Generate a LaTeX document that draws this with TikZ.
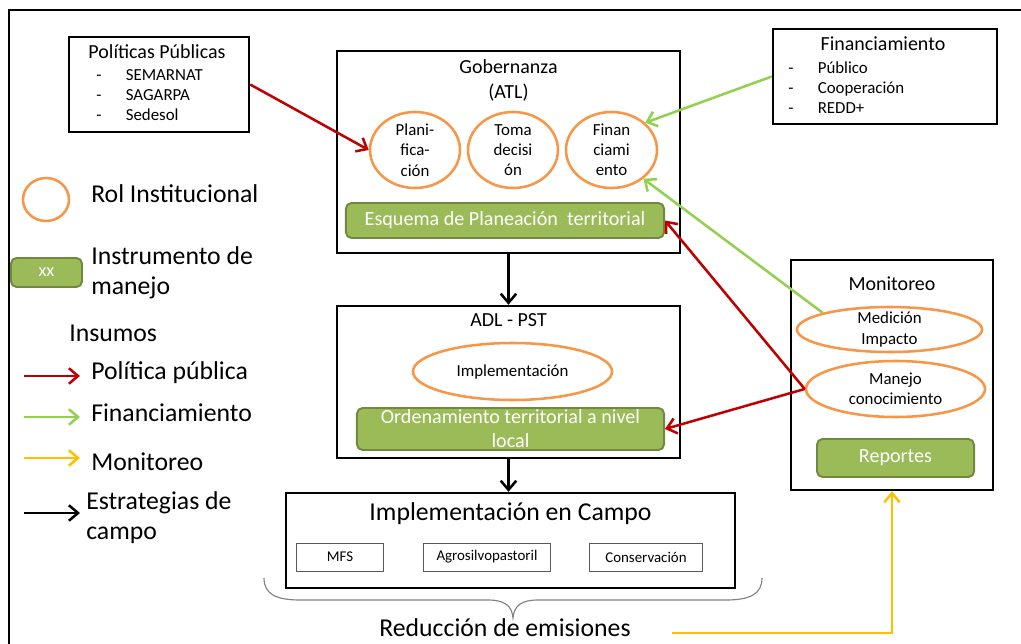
\documentclass[tikz,border=0pt]{standalone}
\usepackage{fontspec}
\setmainfont{Carlito}
\usetikzlibrary{arrows.meta,shapes.geometric}
\definecolor{rolnaranja}{RGB}{247,150,70}
\definecolor{instverde}{RGB}{155,187,89}
\definecolor{instborde}{RGB}{113,137,63}
\definecolor{polrojo}{RGB}{192,0,0}
\definecolor{finverde}{RGB}{146,208,80}
\definecolor{monamarillo}{RGB}{255,192,0}
\newcommand{\guion}{\makebox[21pt][l]{-}}
\newcommand{\fgrand}{\fontsize{18.3}{21.3}\selectfont}
\newcommand{\ftitre}{\fontsize{14.2}{17.8}\selectfont}
\newcommand{\fpetit}{\fontsize{12}{14.4}\selectfont}

\tikzset{
  cadre/.style={draw, line width=1.7pt, inner sep=0pt},
  rol/.style={ellipse, draw=rolnaranja, line width=1.8pt, fill=white, inner sep=0pt},
  roltxt/.style={align=center, font=\fpetit, inner sep=0pt},
  instr/.style={rectangle, rounded corners=4pt, draw=instborde, fill=instverde, line width=1.4pt,
    text=white, inner sep=0pt, align=center, font=\fontsize{14.3}{17}\selectfont},
  flecha/.style={-{Straight Barb[length=6.5pt,width=11pt]}, line width=1.8pt},
}

\begin{document}
\begin{tikzpicture}[x=0.025cm, y=-0.025cm]
	\useasboundingbox (0,0) rectangle (1021,644);
	% cadre
	\draw[line width=1.1pt] (9,644) -- (9,10) -- (1021,10);

	% politicas publicas
	\node[cadre, minimum width=4.5cm, minimum height=2.375cm] (pol) at (159,84.5) {};
	\node[font=\ftitre] (poltit) at (157,52) {Políticas Públicas};
	\node[anchor=west, align=left, font=\fpetit, inner sep=0pt] (pollist) at (96,95)
		{\guion SEMARNAT\\ \guion SAGARPA\\ \guion Sedesol};

	% gobernanza
	\node[cadre, minimum width=8.575cm, minimum height=5.05cm] (gob) at (508.5,152) {};
	\node[font=\ftitre, align=center] (gobtit) at (508.5,80.5) {Gobernanza\\(ATL)};
	\node[rol, minimum width=2.25cm, minimum height=1.9cm,
		label={[roltxt]center:Plani-\\fica-\\ción}] (plan) at (415,150) {};
	\node[rol, minimum width=2.25cm, minimum height=1.9cm,
		label={[roltxt]center:Toma\\decisi\\ón}] (toma) at (513,150) {};
	\node[rol, minimum width=2.275cm, minimum height=1.9cm,
		label={[roltxt]center:Finan\\ciami\\ento}] (finan) at (611.5,150) {};
	\node[instr, minimum width=7.95cm, minimum height=0.875cm] (esq) at (505,220.5)
		{Esquema de Planeación\ \ territorial};

	% adl - pst
	\node[cadre, minimum width=8.575cm, minimum height=3.8cm] (adl) at (508.5,382) {};
	\node[font=\ftitre] (adltit) at (508.5,320) {ADL - PST};
	\node[rol, minimum width=4.975cm, minimum height=1.425cm,
		label={[roltxt]center:Implementación}] (impl) at (512.5,371.5) {};
	\node[instr, minimum width=7.675cm, minimum height=1.05cm] (ord) at (510.5,429)
		{Ordenamiento territorial a nivel\\local};

	% campo
	\node[cadre, minimum width=11.225cm, minimum height=2.375cm] (campo) at (510.5,540.5) {};
	\node[font=\fgrand] (campotit) at (510.5,514) {Implementación en Campo};
	\foreach \x/\w/\t/\n in {340/2.15/MFS/mfs, 487/3.15/Agrosilvopastoril/agro, 646/2.8/Conservación/cons}
		\node[draw=black!65, line width=0.7pt, minimum width=\w cm, minimum height=0.7cm,
			font=\fontsize{10.6}{12}\selectfont] (\n) at (\x,557) {\t};

	% llave
	\draw[black!50, line width=0.8pt] (264,578) .. controls (264,594) and (276,600) .. (300,600)
		-- (488,600) .. controls (505,600) and (512,606) .. (513,618)
		.. controls (514,606) and (521,600) .. (538,600) -- (726,600)
		.. controls (750,600) and (762,594) .. (762,578);
	\node[font=\fgrand] (reduc) at (505,628) {Reducción de emisiones};

	% financiamiento
	\node[cadre, minimum width=5.6cm, minimum height=2.375cm] (finbox) at (885,76.5) {};
	\node[font=\ftitre] (fintit) at (883,44) {Financiamiento};
	\node[anchor=west, align=left, font=\fpetit, inner sep=0pt] (finlist) at (788,87.5)
		{\guion Público\\ \guion Cooperación\\ \guion REDD+};

	% monitoreo
	\node[cadre, minimum width=5.05cm, minimum height=5.75cm] (mon) at (892,375) {};
	\node[font=\ftitre] (montit) at (892,284) {Monitoreo};
	\node[rol, minimum width=4.625cm, minimum height=1.125cm,
		label={[roltxt]center:Medición\\Impacto}] (med) at (889.5,329.5) {};
	\node[rol, minimum width=4.475cm, minimum height=1.4cm,
		label={[roltxt]center:Manejo\\conocimiento}] (man) at (895.5,389) {};
	\node[instr, minimum width=3.925cm, minimum height=0.95cm] (rep) at (895.5,458) {Reportes};

	% legende
	\node[rol, minimum width=1.15cm, minimum height=1.075cm] (legrol) at (46,199.5) {};
	\node[anchor=west, font=\fgrand, inner sep=0pt] (legroltxt) at (91,194) {Rol Institucional};
	\node[instr, minimum width=1.775cm, minimum height=0.725cm, font=\fontsize{13}{15}\selectfont]
		(leginst) at (46.5,272.5) {xx};
	\node[anchor=west, align=left, font=\fgrand, inner sep=0pt] (leginsttxt) at (91,273)
		{Instrumento de\\manejo};
	\node[anchor=west, font=\fgrand, inner sep=0pt] (insumos) at (69,333) {Insumos};
	\foreach \y/\c/\n in {376/polrojo/a, 417/finverde/b, 458/monamarillo/c, 513/black/d} {
		\coordinate (leg\n0) at (24,\y);
		\coordinate (leg\n1) at (80,\y);
		\draw[flecha, \c] (leg\n0) -- (leg\n1);
	}
	\node[anchor=west, font=\fgrand, inner sep=0pt] (legpol) at (91,373) {Política pública};
	\node[anchor=west, font=\fgrand, inner sep=0pt] (legfin) at (91,413) {Financiamiento};
	\node[anchor=west, font=\fgrand, inner sep=0pt] (legmon) at (91,462) {Monitoreo};
	\node[anchor=west, align=left, font=\fgrand, inner sep=0pt] (legcam) at (86,518)
		{Estrategias de\\campo};

	% flechas
	\draw[flecha, polrojo] (pol.east) -- (plan.west);
	\draw[flecha, finverde] (finbox.west) -- (finan.39);
	\draw[flecha, finverde] (med.166) -- (finan.-42);
	\draw[flecha, polrojo] (man.west) -- (esq.east);
	\draw[flecha, polrojo] (man.west) -- (ord.east);
	\draw[flecha] (gob.south) -- (adl.north);
	\draw[flecha] (adl.south) -- (adl.south |- campo.north);
	\coordinate (reducE) at (672,633);
	\draw[flecha, monamarillo] (reducE) -| (mon.south);
\end{tikzpicture}
\end{document}
